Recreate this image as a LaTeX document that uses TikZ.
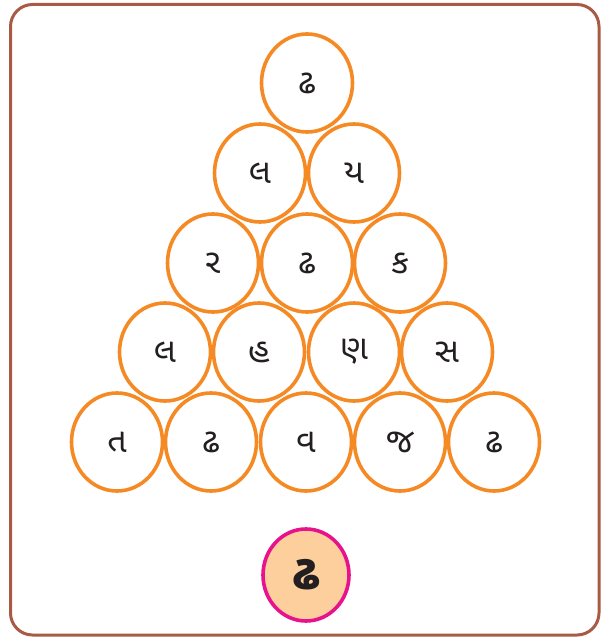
\documentclass[tikz,border=0pt]{standalone}
\usepackage{fontspec}
\newfontfamily\guj[Script=Gujarati]{Noto Sans Gujarati UI}
\definecolor{frame}{HTML}{A85A44}
\definecolor{ring}{HTML}{F58A24}
\definecolor{pinkring}{HTML}{E8128C}
\definecolor{peach}{HTML}{FDCF9C}
\definecolor{ink}{HTML}{231F20}
\begin{document}
\begin{tikzpicture}[x=1pt,y=-1pt,
  ball/.style={ellipse,draw=ring,line width=3.6pt,minimum width=91pt,minimum height=98pt,inner sep=0pt,
    font=\guj\fontsize{34}{34}\selectfont,text=ink},
  answer/.style={ellipse,draw=pinkring,fill=peach,line width=3.6pt,minimum width=86pt,minimum height=92pt,inner sep=0pt,
    font=\guj\bfseries\fontsize{50}{50}\selectfont,text=ink}]
\usetikzlibrary{shapes.geometric}
\useasboundingbox (0,0) rectangle (603,639);
\draw[frame,line width=3pt,rounded corners=22pt] (10.5,4.5) rectangle (599,635);
% row 1
\node[ball] (a1) at (307,83) {ઢ};
% row 2
\node[ball] (b1) at (260,173) {લ};
\node[ball] (b2) at (354,173) {ય};
% row 3
\node[ball] (c1) at (213,263) {ર};
\node[ball] (c2) at (307,263) {ઢ};
\node[ball] (c3) at (400,263) {ક};
% row 4
\node[ball] (d1) at (165,352) {લ};
\node[ball] (d2) at (259,352) {હ};
\node[ball] (d3) at (354,352) {ણ};
\node[ball] (d4) at (447,352) {સ};
% row 5
\node[ball] (e1) at (117,442) {ત};
\node[ball] (e2) at (211,442) {ઢ};
\node[ball] (e3) at (306,442) {વ};
\node[ball] (e4) at (400,442) {જ};
\node[ball] (e5) at (494,442) {ઢ};
% answer
\node[answer] (ans) at (306,575) {ઢ};
\end{tikzpicture}
\end{document}
